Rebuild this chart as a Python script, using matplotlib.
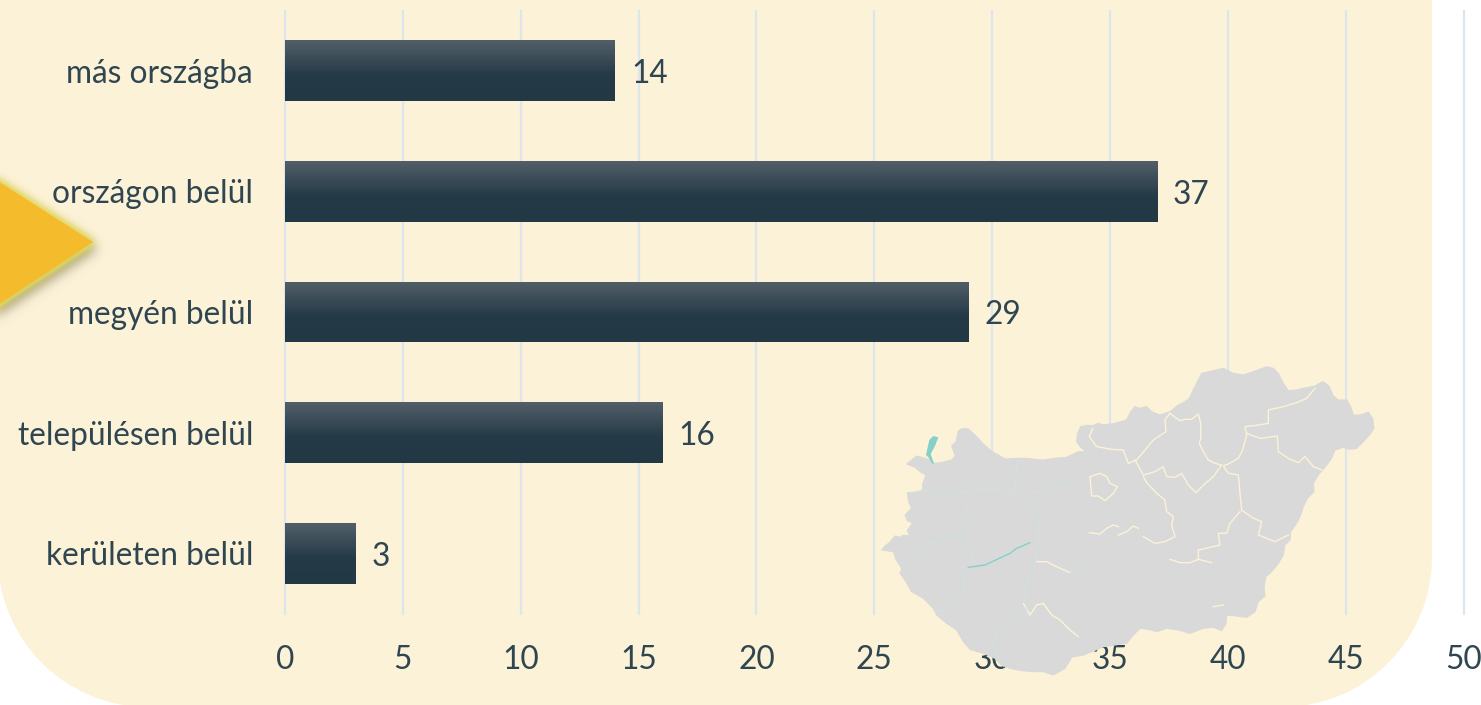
import matplotlib.pyplot as plt
from matplotlib.colors import LinearSegmentedColormap
from matplotlib.patches import Polygon, PathPatch
from matplotlib.path import Path
import numpy as np

categories = ['más országba', 'országon belül', 'megyén belül', 'településen belül', 'kerületen belül']
values = [14, 37, 29, 16, 3]
x_ticks = [0, 5, 10, 15, 20, 25, 30, 35, 40, 45, 50]

W, H = 1481, 705
TEXT = '#2F4550'
CREAM = '#FCF2D7'

# hand traced map, coordinates are pixels of a 3x crop starting at (870, 360)
map_outline = [(35,570),(45,558),(58,548),(75,528),(88,532),(100,526),(120,528),(112,512),(128,488),(112,482),(105,465),
    (125,445),(116,425),(112,398),(135,398),(158,392),(158,372),(168,345),(150,335),(135,322),(110,312),(125,300),
    (140,288),(165,295),(178,300),(195,310),(222,306),(245,300),(256,288),(245,258),(258,245),(265,212),(280,205),
    (295,207),(320,230),(340,252),(362,272),(385,285),(405,297),(440,295),(470,295),(495,298),(520,300),(555,295),
    (590,292),(610,282),(625,275),(650,275),(632,262),(620,245),(622,222),(632,200),(650,196),(668,197),(685,190),
    (700,195),(735,190),(770,180),(782,155),(795,140),(808,145),(830,140),(845,155),(870,165),(885,160),(900,155),
    (925,135),(945,125),(958,115),(972,85),(995,40),(1030,32),(1060,25),(1090,40),(1120,45),(1150,35),(1190,20),
    (1210,25),(1225,40),(1240,70),(1255,92),(1280,90),(1300,85),(1335,78),(1348,70),(1360,65),(1378,80),(1390,108),
    (1405,120),(1430,120),(1442,140),(1450,165),(1470,165),(1495,157),(1508,175),(1512,205),(1498,225),(1480,245),
    (1460,265),(1440,268),(1420,262),(1395,270),(1385,295),(1370,315),(1345,345),(1330,370),(1332,395),(1312,415),
    (1300,440),(1290,470),(1280,490),(1262,515),(1260,540),(1245,555),(1240,585),(1225,610),(1205,635),(1188,650),
    (1182,680),(1185,708),(1165,725),(1155,755),(1130,772),(1100,768),(1070,765),(1068,790),(1055,812),(1030,802),
    (1000,805),(960,820),(925,810),(890,805),(860,815),(835,808),(810,805),(790,825),(770,850),(735,855),(700,860),
    (665,875),(640,885),(605,892),(585,925),(550,945),(520,935),(490,935),(455,932),(420,925),(395,915),(375,895),
    (340,880),(300,868),(280,845),(260,810),(230,790),(200,765),(190,745),(160,715),(125,695),(105,660),(90,640),
    (95,625),(78,598),(70,575),(50,572)]
map_borders = [
    [(900,160),(915,172),(930,182),(945,178),(965,178),(985,162),(992,190),(992,235),(988,250),(1000,275),(1015,300),
     (1035,310),(1055,315),(1030,350),(1000,375),(978,398),(955,375),(935,340),(915,352),(890,350),(880,320),(855,335),
     (820,345),(795,300)],
    [(900,160),(885,180),(888,215),(850,240),(825,270),(800,300),(775,310),(760,270),(725,268),(680,260),(658,230),(668,205)],
    [(1335,85),(1310,115),(1280,128),(1240,140),(1195,150),(1195,190),(1160,196),(1125,200),(1130,225),(1118,270),
     (1105,295),(1075,312),(1060,318),(1075,340),(1105,345),(1110,400),(1115,450)],
    [(1130,220),(1170,235),(1222,228),(1225,275),(1255,295),(1285,308),(1305,290),(1330,320),(1355,330)],
    [(820,350),(830,368),(860,400),(885,420),(890,455),(910,470),(905,495),(915,530),(885,545),(855,550),(820,530)],
    [(1115,450),(1145,472),(1175,485),(1165,525),(1190,535),(1215,545),(1255,525)],
    [(1110,455),(1080,490),(1070,520),(1045,520),(1050,555),(1020,562),(985,570),(985,598),(960,608),(930,608),(900,598)],
    [(660,350),(690,340),(710,350),(720,370),(742,380),(730,400),(705,422),(685,408),(665,408),(660,350)],
    [(658,518),(690,522),(710,505),(730,495),(745,500)],
    [(745,525),(770,515),(790,498),(805,505)],
    [(500,605),(530,605),(560,620),(600,638)],
    [(460,730),(480,765),(500,735),(520,730),(545,765),(570,780),(600,810),(625,830)],
    [(1030,740),(1060,735)],
    [(985,598),(1025,608)],
]
map_west_borders = [
    [(115,400),(160,390),(220,400),(280,395),(340,388),(400,390),(435,405),(440,300)],
    [(435,410),(405,450)],
    [(470,430),(505,470),(505,550),(495,610),(465,690),(470,760),(440,770),(385,790),(370,860),(400,920)],
    [(290,425),(285,510),(250,520),(200,545),(160,550),(95,610)],
    [(250,520),(300,560),(310,600),(285,640),(280,690),(240,730),(235,755),(200,755)],
    [(470,430),(490,395),(530,400),(570,375),(610,355)],
    [(600,638),(650,590)],
]
lake_ferto = [(168,285),(178,240),(190,228),(205,232),(195,258),(182,282),(192,312),(186,310),(175,292)]
lake_balaton = [(295,622),(345,615),(420,580),(440,565),(480,548)]

triangle = [(-10,176),(93,242),(-10,310)]


def to_px(pts):
    return [(870 + x / 3, 360 + y / 3) for x, y in pts]


def blur(a, sigma):
    r = int(3 * sigma)
    g = np.exp(-np.arange(-r, r + 1) ** 2 / (2 * sigma ** 2))
    g /= g.sum()
    a = np.apply_along_axis(lambda m: np.convolve(m, g, mode='same'), 0, a)
    return np.apply_along_axis(lambda m: np.convolve(m, g, mode='same'), 1, a)


plt.rcParams['font.family'] = ['Lato', 'DejaVu Sans']
fig = plt.figure(figsize=(W / 100, H / 100), dpi=100, facecolor='white')

bg = fig.add_axes([0, 0, 1, 1], zorder=0)
bg.set_xlim(0, W)
bg.set_ylim(H, 0)
bg.axis('off')

# cream panel with rounded bottom corners
R = 150
k = 0.5523 * R
L, RE, T, B = -2, 1432, -5, 707
verts = [(L, T), (RE, T), (RE, B - R), (RE, B - R + k), (RE - R + k, B), (RE - R, B), (L + R, B),
         (L + R - k, B), (L, B - R + k), (L, B - R), (L, T)]
codes = [Path.MOVETO, Path.LINETO, Path.LINETO, Path.CURVE4, Path.CURVE4, Path.CURVE4, Path.LINETO,
         Path.CURVE4, Path.CURVE4, Path.CURVE4, Path.CLOSEPOLY]
bg.add_patch(PathPatch(Path(verts, codes), facecolor=CREAM, edgecolor='none'))

ax = fig.add_axes([285 / W, 1 - 613.5 / H, (1463.5 - 285) / W, (613 - 10) / H], zorder=1)
ax.patch.set_alpha(0)
for s in ax.spines.values():
    s.set_visible(False)

ypos = np.arange(len(categories))
ax.grid(axis='x', color='#DCE6EC', linewidth=1.6, zorder=0, clip_on=False)
ax.set_axisbelow(True)
bars = ax.barh(ypos, values, height=0.505, color='#243A47', zorder=2)
ax.set_xlim(0, 50)
ax.set_ylim(4.5, -0.5)
ax.set_xticks(x_ticks)
ax.set_yticks(ypos)
ax.set_yticklabels(categories)
ax.tick_params(axis='both', length=0, labelcolor=TEXT, labelsize=22.8)
ax.tick_params(axis='y', pad=23)
ax.tick_params(axis='x', pad=23)

# gradient on the bars, light top to dark past the middle
cmap = LinearSegmentedColormap.from_list('bar', [(0, '#525F68'), (0.58, '#243A47'), (1, '#233845')])
grad = np.linspace(0, 1, 64).reshape(-1, 1)
for b in bars:
    x0, y0, w, h = b.get_x(), b.get_y(), b.get_width(), b.get_height()
    im = ax.imshow(grad, extent=(x0, x0 + w, y0 + h, y0), cmap=cmap, aspect='auto', zorder=2.5, origin='upper')
    im.set_clip_path(b)
ax.set_xlim(0, 50)
ax.set_ylim(4.5, -0.5)
for y, v in zip(ypos, values):
    ax.annotate(str(v), (v, y), xytext=(11.5, -2.5), textcoords='offset points', va='center', ha='left',
                color=TEXT, fontsize=22.8)

top = fig.add_axes([0, 0, 1, 1], zorder=2)

# blurred glow and shadow of the triangle
tri = np.array(triangle, dtype=float)
gx, gy = np.meshgrid(np.arange(-40, 140), np.arange(130, 360))
inside = Path(tri).contains_points(np.c_[gx.ravel(), gy.ravel()]).reshape(gx.shape).astype(float)
glow = np.clip(blur(inside, 4.5) * 2.6, 0, 1) * 0.8
shadow = np.roll(np.roll(blur(inside, 6), 6, axis=0), 4, axis=1) * 0.7
rgb_glow = np.array([0xE8, 0xDC, 0x5A]) / 255
rgb_shadow = np.array([0x70, 0x6C, 0x50]) / 255
rgba = np.zeros(gx.shape + (4,))
for c in range(3):
    rgba[..., c] = (rgb_glow[c] * glow + rgb_shadow[c] * shadow * (1 - glow)) / np.maximum(glow + shadow * (1 - glow), 1e-6)
rgba[..., 3] = glow + shadow * (1 - glow)
top.imshow(rgba, extent=(-40, 140, 360, 130), aspect='auto', interpolation='bilinear')
top.add_patch(Polygon(tri, closed=True, facecolor='#F4BC2C', edgecolor='none'))

top.add_patch(Polygon(to_px(map_outline), closed=True, facecolor='#D9D9D9', edgecolor='#D9D9D9', linewidth=0.8,
                      joinstyle='round'))
for line in map_borders:
    xs, ys = zip(*to_px(line))
    top.plot(xs, ys, color=CREAM, linewidth=1.0)
for line in map_west_borders:
    xs, ys = zip(*to_px(line))
    top.plot(xs, ys, color='#CFE3E0', linewidth=0.7)
top.add_patch(Polygon(to_px(lake_ferto), closed=True, facecolor='#85D0C8', edgecolor='none'))
xs, ys = zip(*to_px(lake_balaton))
top.plot(xs, ys, color='#85D0C8', linewidth=1.0)
top.set_xlim(0, W)
top.set_ylim(H, 0)
top.axis('off')
top.patch.set_alpha(0)

fig.savefig('out.png', dpi=100)
